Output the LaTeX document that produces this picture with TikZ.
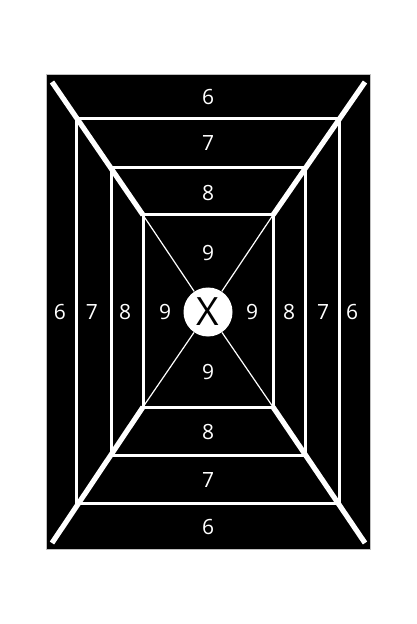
\documentclass[tikz,border=0pt]{standalone}
\usepackage{fontspec}
\setmainfont{Open Sans}
\tikzset{
  ring/.style={draw=white,line width=1.5pt},
  arm/.style={draw=white,line width=2.6pt},
  spoke/.style={draw=white,line width=0.6pt},
  num/.style={text=white,inner sep=0pt,font=\fontsize{10.5}{12}\selectfont}
}
\begin{document}
\begin{tikzpicture}[x=0.5pt,y=-0.5pt]
\useasboundingbox (0,0) rectangle (416,624);
% board
\fill[black,draw=gray!50,line width=0.5pt] (46,75) rectangle (370,549);
% outer ends of the diagonals
\coordinate (o1) at (52,82);
\coordinate (o2) at (365,82);
\coordinate (o3) at (365,543);
\coordinate (o4) at (52,543);
% corners of the inner rectangle
\coordinate (c1) at (143,215);
\coordinate (c2) at (273,215);
\coordinate (c3) at (273,407);
\coordinate (c4) at (143,407);
% rings
\draw[ring] (76,119) rectangle (339,503);
\draw[ring] (111,168) rectangle (305,455);
\draw[ring] (c1) rectangle (c3);
% centre
\node (bull) at (208,312) [circle,fill=white,minimum size=24.5pt,inner sep=0pt,font=\fontsize{19.5}{20}\selectfont] {X};
\draw[spoke] (c1) -- (bull);
\draw[spoke] (c2) -- (bull);
\draw[spoke] (c3) -- (bull);
\draw[spoke] (c4) -- (bull);
\draw[arm] (o1) -- (c1);
\draw[arm] (o2) -- (c2);
\draw[arm] (o3) -- (c3);
\draw[arm] (o4) -- (c4);
% scores, top and bottom
\node (t6) at (208,97) [num] {6};
\node (t7) at (208,143) [num] {7};
\node (t8) at (208,193) [num] {8};
\node (t9) at (208,253) [num] {9};
\node (b9) at (208,372) [num] {9};
\node (b8) at (208,432) [num] {8};
\node (b7) at (208,480) [num] {7};
\node (b6) at (208,527) [num] {6};
% scores, left and right
\node (l6) at (60,312) [num] {6};
\node (l7) at (92,312) [num] {7};
\node (l8) at (125,312) [num] {8};
\node (l9) at (165,312) [num] {9};
\node (r9) at (252,312) [num] {9};
\node (r8) at (289,312) [num] {8};
\node (r7) at (323,312) [num] {7};
\node (r6) at (352,312) [num] {6};
\end{tikzpicture}
\end{document}
